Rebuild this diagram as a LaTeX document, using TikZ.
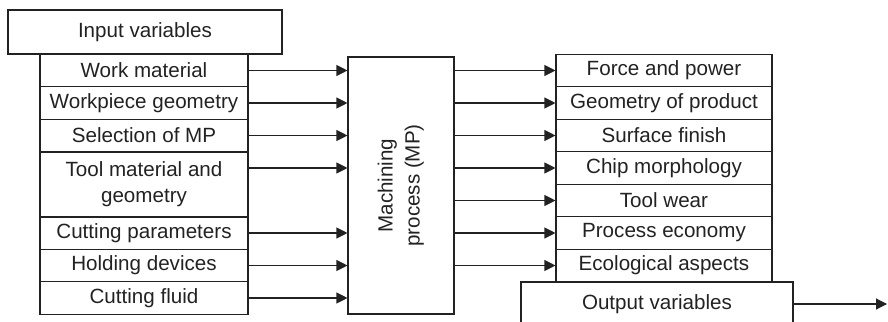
\documentclass[tikz,border=0pt]{standalone}
\usepackage{fontspec}
\setmainfont{Liberation Sans}
\usetikzlibrary{arrows.meta}
\definecolor{ink}{HTML}{222222}
\tikzset{
  box/.style={draw=ink, line width=1.1pt, text=ink, inner sep=0pt, align=center,
              font=\fontsize{20.6}{26}\selectfont},
  inrow/.style={box, minimum width=208pt, minimum height=32.6pt},
  outrow/.style={box, minimum width=216pt, minimum height=32.6pt},
  flow/.style={draw=ink, line width=1.1pt, -{Triangle[length=11pt,width=11pt]}}
}
\begin{document}
\begin{tikzpicture}[x=1pt, y=-1pt]
\useasboundingbox (0,0) rectangle (888,321);
\clip (0,0) rectangle (888,321);

% input side
\node[box, minimum width=274pt, minimum height=44pt] (invar) at (145,32) {Input variables};
\node[inrow] (in1) at (144,70.5) {Work material};
\node[inrow] (in2) at (144,103) {Workpiece geometry};
\node[inrow] (in3) at (144,135.5) {Selection of MP};
\node[inrow, minimum height=65pt] (in4) at (144,184.5) {Tool material and\\geometry};
\node[inrow] (in5) at (144,233) {Cutting parameters};
\node[inrow] (in6) at (144,265.5) {Holding devices};
\node[inrow] (in7) at (144,298) {Cutting fluid};
\coordinate (in4tap) at (248,168);

% process
\node[box, minimum width=106pt, minimum height=257pt] (mp) at (401,185.5)
  {\rotatebox{90}{\begin{tabular}{@{}c@{}}Machining\\[1pt]process (MP)\end{tabular}}};

% output side
\node[outrow] (out1) at (664,70.5) {Force and power};
\node[outrow] (out2) at (664,103) {Geometry of product};
\node[outrow] (out3) at (664,135.5) {Surface finish};
\node[outrow] (out4) at (664,168) {Chip morphology};
\node[outrow] (out5) at (664,200.5) {Tool wear};
\node[outrow] (out6) at (664,233) {Process economy};
\node[outrow] (out7) at (664,265.5) {Ecological aspects};
\node[box, minimum width=272pt, minimum height=44pt] (outvar) at (657,304) {Output variables};
\coordinate (outend) at (887,304);

% inputs into the process
\foreach \r in {in1,in2,in3,in5,in6,in7}
  \draw[flow] (\r.east) -- (\r.east -| mp.west);
\draw[flow] (in4tap) -- (in4tap -| mp.west);

% process into the outputs
\foreach \r in {out1,out2,out3,out4,out5,out6,out7}
  \draw[flow] (\r.west -| mp.east) -- (\r.west);

\draw[flow] (outvar.east) -- (outend);
\end{tikzpicture}
\end{document}
